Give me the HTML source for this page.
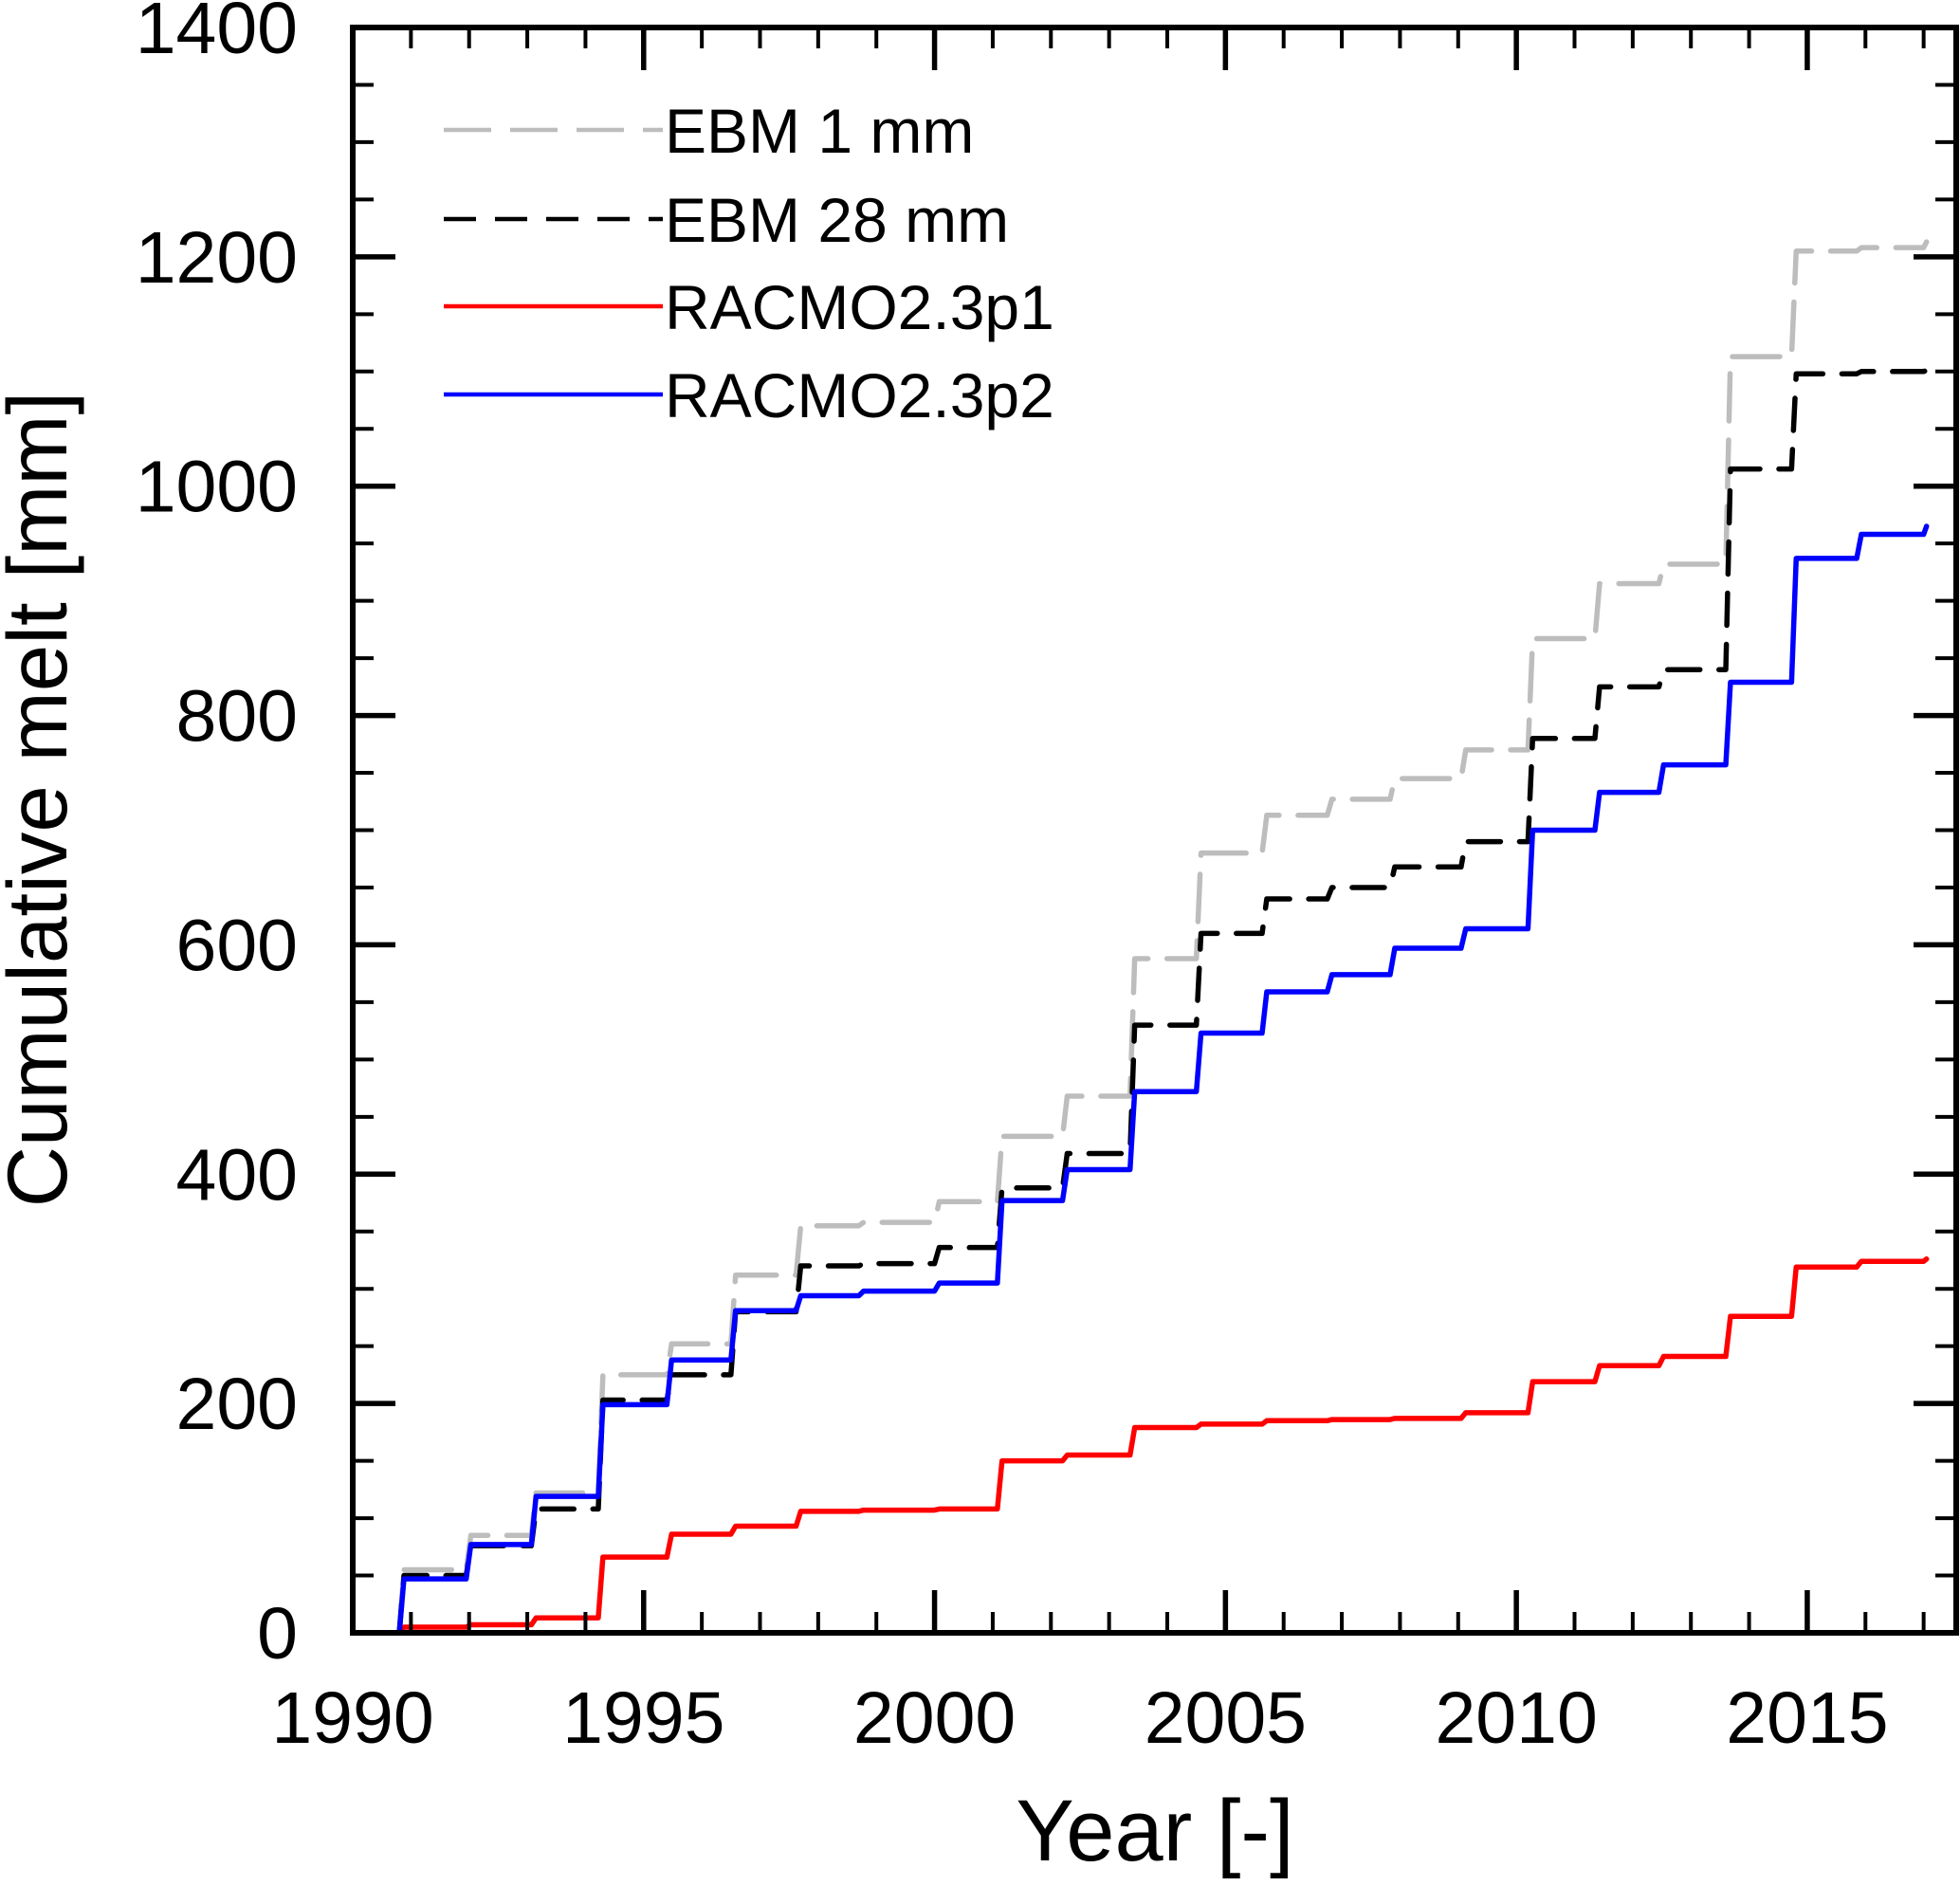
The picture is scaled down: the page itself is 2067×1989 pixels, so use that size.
<!DOCTYPE html>
<html><head><meta charset="utf-8"><style>
html,body{margin:0;padding:0;background:#fff}
svg{display:block;font-family:"Liberation Sans",Arial,sans-serif}
</style></head><body>
<svg id="chart" width="2067" height="1989" viewBox="0 0 2067 1989" xmlns="http://www.w3.org/2000/svg">
<g id="grid"></g>
<g id="series"></g>
<g id="axes"></g>
<g id="legend"></g>
</svg>
<script>
const stepYears = [1990.8,1991.95,1993.07,1994.22,1995.4,1996.5,1997.62,1998.7,2000.0,2001.08,2002.2,2003.36,2004.5,2005.63,2006.75,2007.83,2009.05,2010.2,2011.35,2012.45,2013.6,2014.73,2015.85];
const ebm1Values  = [55,85,122,225,252,312,355,358,376,433,468,588,680,713,727,745,770,867,915,932,1113,1205,1208];
const ebm28Values = [50,76,108,203,225,280,320,322,336,388,418,530,610,640,650,668,690,780,825,840,1015,1098,1100];
const p1Values    = [5,7,13,66,86,93,106,107,108,150,155,179,182,185,186,187,192,219,233,241,276,319,324];
const p2Values    = [47,77,119,199,238,281,294,298,305,377,404,472,523,559,574,597,614,700,733,757,829,937,958];
const endYear = 2017.05;
const endValues = {ebm1:1213, ebm28:1101, p1:326, p2:965};
const yTicks = [0,200,400,600,800,1000,1200,1400];
const xTicks = [1990,1995,2000,2005,2010,2015];

const L=372,R=2063,T=29,B=1722,X0=1990,X1=2017.56,Y0=0,Y1=1400;
const sx=v=>L+(v-X0)/(X1-X0)*(R-L);
const sy=v=>B-(v-Y0)/(Y1-Y0)*(B-T);
const NS="http://www.w3.org/2000/svg";
function mk(tag,attrs,parent){const e=document.createElementNS(NS,tag);for(const k in attrs)e.setAttribute(k,attrs[k]);parent.appendChild(e);return e;}

const series=document.getElementById('series');
function stepPath(vals,endV){
  let d=`M${sx(stepYears[0]-0.05)},${sy(0)}`;
  let prev=0;
  for(let i=0;i<stepYears.length;i++){
    d+=` L${sx(stepYears[i])},${sy(prev)} L${sx(stepYears[i]+0.08)},${sy(vals[i])}`;
    prev=vals[i];
  }
  d+=` L${sx(endYear-0.05)},${sy(prev)} L${sx(endYear)},${sy(endV)}`;
  return d;
}
const specs=[
 {vals:p1Values,end:endValues.p1,color:'#ff0000',dash:'',name:'racmo23p1-line'},
 {vals:ebm1Values,end:endValues.ebm1,color:'#bdbdbd',dash:'50 20',name:'ebm-1mm-line'},
 {vals:ebm28Values,end:endValues.ebm28,color:'#000000',dash:'34 20',name:'ebm-28mm-line'},
 {vals:p2Values,end:endValues.p2,color:'#0000ff',dash:'',name:'racmo23p2-line'}
];
for(const s of specs){
  const p=mk('path',{d:stepPath(s.vals,s.end),fill:'none',stroke:s.color,'stroke-width':5.5,'stroke-dasharray':s.dash,'stroke-linejoin':'round','stroke-linecap':'round'},series);
  
  
}

const axes=document.getElementById('axes');
for(let v=0;v<=1400;v+=50){
  const major=v%200===0, len=major?45:22, y=sy(v);
  const t1=mk('line',{x1:L,y1:y,x2:L+len,y2:y,stroke:'#000','stroke-width':major?5.5:4},axes);
  
  
  const t2=mk('line',{x1:R,y1:y,x2:R-len,y2:y,stroke:'#000','stroke-width':major?5.5:4},axes);
  
  
}
for(let v=1990;v<=2017;v++){
  const major=v%5===0, len=major?45:22, x=sx(v);
  const t1=mk('line',{x1:x,y1:B,x2:x,y2:B-len,stroke:'#000','stroke-width':major?5.5:4},axes);
  
  
  const t2=mk('line',{x1:x,y1:T,x2:x,y2:T+len,stroke:'#000','stroke-width':major?5.5:4},axes);
  
  
}
const frame=mk('rect',{x:L,y:T,width:R-L,height:B-T,fill:'none',stroke:'#000','stroke-width':6},axes);


for(const v of yTicks){
  const t=mk('text',{x:314,y:sy(v)+27,'text-anchor':'end','font-size':77,fill:'#000'},axes);
  t.textContent=v;
  
  
}
for(const v of xTicks){
  const t=mk('text',{x:sx(v),y:1838,'text-anchor':'middle','font-size':77,fill:'#000'},axes);
  t.textContent=v;
  
  
}
const xt=mk('text',{x:1218,y:1962,'text-anchor':'middle','font-size':92,fill:'#000'},axes);
xt.textContent='Year [-]';


const yt=mk('text',{x:0,y:0,'text-anchor':'middle','font-size':89,fill:'#000',transform:'translate(70,843) rotate(-90)'},axes);
yt.textContent='Cumulative melt [mm]';



const legend=document.getElementById('legend');
const legItems=[
 {label:'EBM 1 mm',color:'#bdbdbd',dash:'50 20',y:137,name:'legend-entry-ebm-1mm'},
 {label:'EBM 28 mm',color:'#000',dash:'34 20',y:231,name:'legend-entry-ebm-28mm'},
 {label:'RACMO2.3p1',color:'#ff0000',dash:'',y:323,name:'legend-entry-racmo23p1'},
 {label:'RACMO2.3p2',color:'#0000ff',dash:'',y:416,name:'legend-entry-racmo23p2'}
];
for(const it of legItems){
  const g=mk('g',{},legend);
  
  
  mk('line',{x1:468,y1:it.y,x2:699,y2:it.y,stroke:it.color,'stroke-width':4.5,'stroke-dasharray':it.dash},g);
  const t=mk('text',{x:701,y:it.y+24,'font-size':66,fill:'#000'},g);
  t.textContent=it.label;
}
</script>
</body></html>
